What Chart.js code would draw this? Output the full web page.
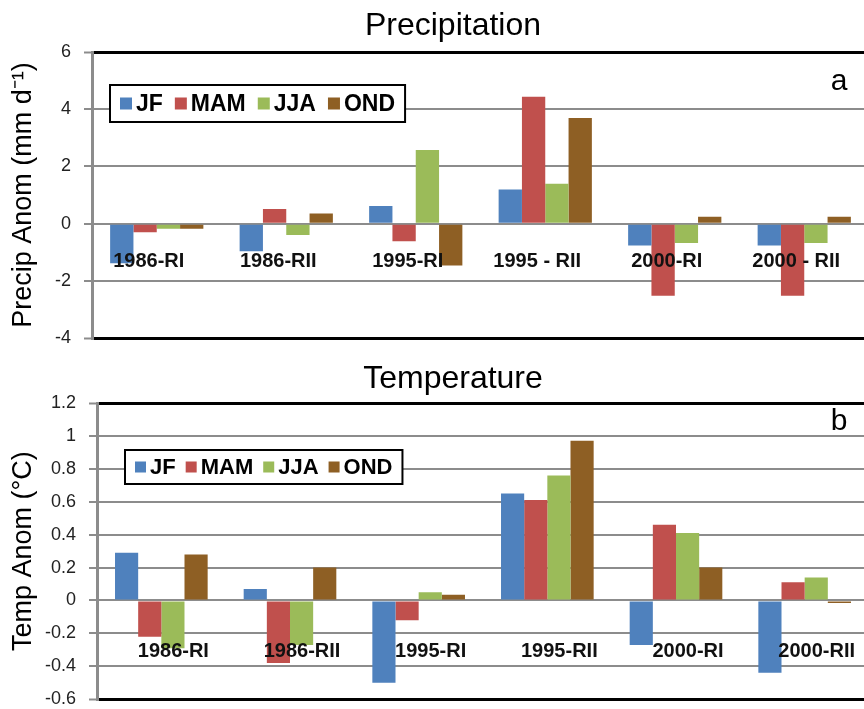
<!DOCTYPE html>
<html>
<head>
<meta charset="utf-8">
<script src="https://cdn.jsdelivr.net/npm/chart.js@4.4.1/dist/chart.umd.min.js"></script>
<style>
  html, body { margin: 0; padding: 0; background: #fff; overflow: hidden; width: 864px; height: 709px; }
  .panel { position: absolute; left: 0; width: 910px; }
  #topPanel { top: 0; height: 362px; }
  #botPanel { top: 355px; height: 368px; }
</style>
</head>
<body>
<div class="panel" id="topPanel"><canvas id="precipChart"></canvas></div>
<div class="panel" id="botPanel"><canvas id="tempChart"></canvas></div>
<script>
// categories
const precipPeriods = ["1986-RI", "1986-RII", "1995-RI", "1995 - RII", "2000-RI", "2000 - RII"];
const tempPeriods = ["1986-RI", "1986-RII", "1995-RI", "1995-RII", "2000-RI", "2000-RII"];
const seasons = ["JF", "MAM", "JJA", "OND"];
const seasonColors = ['#4F81BD', '#C0504D', '#9BBB59', '#8E5F24'];

// precipitation anomalies (mm/day)
const precipJF  = [-1.38, -0.96, 0.62, 1.20, -0.76, -0.76];
const precipMAM = [-0.30, 0.51, -0.61, 4.44, -2.52, -2.52];
const precipJJA = [-0.18, -0.39, 2.58, 1.40, -0.67, -0.67];
const precipOND = [-0.18, 0.36, -1.46, 3.69, 0.24, 0.24];

// temperature anomalies (deg C)
const tempJF  = [0.29, 0.07, -0.50, 0.65, -0.27, -0.44];
const tempMAM = [-0.22, -0.38, -0.12, 0.61, 0.46, 0.11];
const tempJJA = [-0.29, -0.27, 0.05, 0.76, 0.41, 0.14];
const tempOND = [0.28, 0.20, 0.035, 0.97, 0.20, -0.015];

// y axis ranges: min, max, step
const precipAxis = [-4, 6, 2];
const tempAxis = [-0.6, 1.2, 0.2];

const FONT = '"Liberation Sans", Arial, Helvetica, sans-serif';
const GRID_GRAY = '#8c8c8c';

// draws the panel title, category labels under the zero line, the boxed legend and the panel letter
const panelDecor = {
  id: 'panelDecor',
  afterDatasetsDraw(chart, args, opts) {
    const {ctx, chartArea, scales} = chart;
    const xs = scales.x, ys = scales.y;
    ctx.save();

    // title (centred on the page, not on the chart box)
    ctx.font = '32px ' + FONT;
    ctx.fillStyle = '#000';
    ctx.textAlign = 'center';
    ctx.textBaseline = 'alphabetic';
    ctx.fillText(opts.title, 453, opts.titleBase);

    // category labels
    ctx.font = 'bold 20px ' + FONT;
    ctx.fillStyle = '#111';
    ctx.textBaseline = 'middle';
    const yLab = ys.getPixelForValue(0) + opts.labelDrop;
    chart.data.labels.forEach((lab, i) => {
      ctx.fillText(lab, xs.getPixelForValue(i) + opts.labelShift, yLab);
    });

    // legend box
    const ds = chart.data.datasets;
    ctx.font = 'bold ' + opts.legendFont + 'px ' + FONT;
    const widths = ds.map(d => ctx.measureText(d.label).width);
    const sq = opts.square, gap = 4, itemGap = opts.itemGap, pad = 10;
    let boxW = pad * 2 + itemGap * (ds.length - 1);
    widths.forEach(w => boxW += sq + gap + w);
    const bx = chartArea.left + opts.legendX, by = chartArea.top + opts.legendY;
    const bh = opts.legendH;
    ctx.fillStyle = '#fff';
    ctx.fillRect(bx, by, boxW, bh);
    ctx.strokeStyle = '#000';
    ctx.lineWidth = 2;
    ctx.strokeRect(bx, by, boxW, bh);
    let cx = bx + pad;
    const cy = by + bh / 2;
    ctx.textAlign = 'left';
    ds.forEach((d, i) => {
      ctx.fillStyle = d.backgroundColor;
      ctx.fillRect(cx, cy - sq / 2, sq, sq);
      cx += sq + gap;
      ctx.fillStyle = '#000';
      ctx.fillText(d.label, cx, cy + 1);
      cx += widths[i] + itemGap;
    });

    // panel letter
    ctx.font = '30px ' + FONT;
    ctx.textAlign = 'center';
    ctx.textBaseline = 'alphabetic';
    ctx.fillText(opts.letter, chartArea.right - 30, chartArea.top + opts.letterDy);

    ctx.restore();
  }
};

function makePanel(canvasId, labels, series, axis, yTitle, axisWidth, areaTop, decor) {
  const [yMin, yMax, yStep] = axis;
  const isEdge = v => Math.abs(v - yMin) < 1e-6 || Math.abs(v - yMax) < 1e-6;
  return new Chart(document.getElementById(canvasId), {
    type: 'bar',
    data: {
      labels: labels,
      datasets: seasons.map((s, i) => ({
        label: s,
        data: series[i],
        backgroundColor: seasonColors[i],
        borderWidth: 0,
        categoryPercentage: 0.72,
        barPercentage: 1.0
      }))
    },
    options: {
      responsive: true,
      maintainAspectRatio: false,
      animation: false,
      layout: { padding: { left: 0, right: 41, top: areaTop, bottom: 0 } },
      plugins: {
        legend: { display: false },
        tooltip: { enabled: false },
        title: { display: false },
        panelDecor: decor
      },
      scales: {
        x: { display: false },
        y: {
          min: yMin,
          max: yMax,
          afterFit: sc => { sc.width = axisWidth; },
          ticks: {
            stepSize: yStep,
            color: '#222',
            padding: 13,
            font: { family: FONT, size: 18 },
            callback: v => String(+v.toFixed(1))
          },
          grid: {
            color: c => (c.tick && isEdge(c.tick.value)) ? '#000' : GRID_GRAY,
            lineWidth: c => (c.tick && isEdge(c.tick.value)) ? 3 : 2,
            tickColor: GRID_GRAY,
            tickWidth: 2,
            tickLength: 8
          },
          border: { color: GRID_GRAY, width: 3 },
          title: {
            display: true,
            text: yTitle,
            color: '#000',
            font: { family: FONT, size: 27 },
            padding: { top: 7 }
          }
        }
      }
    },
    plugins: [panelDecor]
  });
}

makePanel('precipChart', precipPeriods,
  [precipJF, precipMAM, precipJJA, precipOND], precipAxis,
  'Precip Anom (mm d\u207B\u00B9)', 92, 52,
  { title: 'Precipitation', titleBase: 35, labelDrop: 38, labelShift: -8, legendX: 18, legendY: 33, legendH: 37,
    legendFont: 23, square: 12, itemGap: 12, letterDy: 38, letter: 'a' });

makePanel('tempChart', tempPeriods,
  [tempJF, tempMAM, tempJJA, tempOND], tempAxis,
  'Temp Anom (\u00B0C)', 97, 48,
  { title: 'Temperature', titleBase: 33, labelDrop: 51, labelShift: 12, legendX: 28, legendY: 47, legendH: 34,
    legendFont: 22, square: 11, itemGap: 10, letterDy: 27, letter: 'b' });
</script>
</body>
</html>
